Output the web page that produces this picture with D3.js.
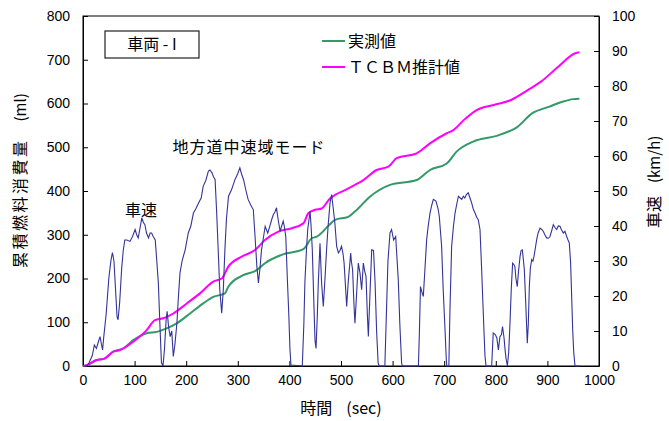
<!DOCTYPE html>
<html><head><meta charset="utf-8">
<script src="https://cdn.jsdelivr.net/npm/d3@7"></script>
<style>
body{margin:0;background:#fff;}
svg{display:block;}
.tick text{font-family:"Liberation Sans Narrow","Liberation Sans",Arial,sans-serif;font-size:14px;fill:#000;}
.cjk{font-family:"Noto Sans CJK JP","Noto Sans",sans-serif;fill:#000;}
</style></head>
<body><svg id="c" width="669" height="421"></svg>
<script>
// ---- data ----
const xTicks = [0,100,200,300,400,500,600,700,800,900,1000];
const yLeftTicks = [0,100,200,300,400,500,600,700,800];
const yRightTicks = [0,10,20,30,40,50,60,70,80,90,100];

const tcbmT = [0,10,23,42.6,58.7,71.7,97.5,123.4,139.5,155.6,175,201,226.7,252.5,268.8,281.6,307.6,333.3,352.7,378.5,404.5,427,436.6,449.6,462.6,478.7,488.4,507.8,527,543.3,569,591.7,608,646.7,672.5,705,717.7,737.8,763,796,829.5,862.5,887.6,921,954,962];
const tcbmV = [0,3,12,17.6,33,36.6,55.5,82,105,109,120,143,166,193,200,227,250,265,288,307,315,326,349,357,360,383,391,402,414,425,448,455.5,475,486,509,532,539,562,585,596.6,608,631,650,684,715,717];

const measT = [0,10,23,42.6,58.7,78,97.5,123.4,143,162,181.6,207.4,233,252.5,275,281.6,307.6,336.6,352.7,385,427,443.2,453,477,488.4,514,527,556,595,646.7,672.5,705,724,756.4,801.7,830.8,837.6,871,904,929,950,962];
const measV = [0,3,12,17.6,33,40,59,75,78,86,97.5,120,143,158,166,181,206,219,235,254,267,292,295.5,322,334,341,353,387,414,425,448,463,490,513,526,539,543,578,593,604,610,611];

const speedT = [0,8,12,18,22,26,30,33,36,38,40,45,50,54,57,60,63,66,68,71,75,78,81,85,91,96,101,104,107,110,114,117,120,123,127,130,133,136,140,143,146,149,152,155,158,161,163,166,169,172,175,178,182,185,188,192,198,204,209,214,219,224,229,233,238,243,246,250,253,256,259,262,265,268.8,272,275,278,282,288,294.6,300,304,307,311,316,320,325,330,333,337,340,343,346,350,353,358,362,366,369,372,375,378,382,385,388,390,393,396,399,401,403,425,428,430,433,435.5,440,442,444.4,447,449.6,451.6,454,456,459.3,462.4,465.7,469,472,475,478.7,481.8,485,488,491.6,495,498,501,504,506,509,511,514,518.8,520,522.5,525,527,530,533.5,536.8,540,543.3,546,548.5,551,553,556,559.5,563,566,569,572,574,585,588,591,595,598,602,606,608,611,614,617.5,619,650,652,654,657,659.5,662,666,669,672.5,676,679,684,688,690.5,693,695,698,701.6,704,705,709,711,714.4,718,721,724,727.5,731,734,737,740,743,746.6,750,753.2,756,759.7,763,766,769.4,772.6,775,777,779,781,792,795,799,802,805,808,811,813,816,818,820,822.5,825,827.5,830,832.6,835,837,839,841.6,844,847,849,851.4,853,855.3,858,861,863,865,867,869.6,872,874,877,879.2,882,885.7,889,892,895,898.6,902,905,908,911.5,915,918,921,924.4,927,930.8,934,937.4,940,942.5,945,947,949,951,953.5,962];
const speedV = [0,0,1,3,6,5,7,8.4,6,4.6,8,15,25,30,32.4,30,22,14,13.2,18,28,33,36,36,35.6,37,39,37.5,36.6,39,42.3,41,40.4,38,36.6,38,38,37,36,30,23.7,12,1,0,5,13,15.6,11,8.4,10,2.7,6,12.3,20,26.6,30,33.2,38,40,43.7,45,46.6,48,51.4,53,55.7,56,55.2,54,53.3,44,33.2,22,15.1,22,33.2,42,48.5,50.4,53.3,55,56.6,55,53.3,50,47.6,46,44.7,38,28.4,23.7,28,33.2,37,39.9,38,39.9,42,43.3,44,45.2,42,38.5,40,41.4,40,37,25,14.1,5,0.3,0,12,23.7,33,39,44.2,40,33.2,20,7.4,5,14,23.7,35.1,23.7,17,25,33.2,40,46.6,49,45,41,34.2,32.3,33,34.2,32,29.4,22,17,24,32.3,30,27.5,18,12.2,20,29.4,26.6,21.8,29.4,27,25.6,15,8.4,20,33.2,33,24,10,0.8,0,0,15,30,38,39,36,37,32,24.6,12,0.8,0,0,10,22.7,21,19.9,26,36.1,40,43.7,46,47.6,47.1,45,42.8,38,34.2,22,10.3,2,0,0,15,34.2,40,43.7,46,48.5,48,47.6,48.5,48,49,49.5,48,46.6,45,43.7,42.5,41.8,39,27.5,18,10.3,3,0,0,9.4,9,8,4.6,8.4,9,11.3,8,4.6,2,0,4,12.2,22,29.4,29,28.4,25,22.7,27,31.3,33,33.2,31,27.5,18,6.5,12,22.7,28,30.4,30,31.3,34,36.1,38,39.4,39,38.5,37.5,36.6,36.5,37,38.5,40.4,39.5,39,40,39.9,39,38,38.5,37,36,35.1,29.4,20,10.3,4,0,0];

// ---- chart ----
const svg = d3.select("#c");
const L = 83, R = 599, T = 16, B = 366;
const x = d3.scaleLinear().domain([0,1000]).range([L,R]);
const yL = d3.scaleLinear().domain([0,800]).range([B,T]);
const yR = d3.scaleLinear().domain([0,100]).range([B,T]);
const fmt = d3.format("d");

// frame
svg.append("rect").attr("x",L).attr("y",T).attr("width",R-L).attr("height",B-T)
  .attr("fill","none").attr("stroke","#000").attr("stroke-width",1);

// axes
const gx = svg.append("g").attr("transform",`translate(0,${B})`)
  .call(d3.axisBottom(x).tickValues(xTicks).tickFormat(fmt).tickSize(-5).tickSizeOuter(0).tickPadding(9));
const gl = svg.append("g").attr("transform",`translate(${L},0)`)
  .call(d3.axisLeft(yL).tickValues(yLeftTicks).tickFormat(fmt).tickSize(-5).tickSizeOuter(0).tickPadding(13));
const gr = svg.append("g").attr("transform",`translate(${R},0)`)
  .call(d3.axisRight(yR).tickValues(yRightTicks).tickFormat(fmt).tickSize(-5).tickSizeOuter(0).tickPadding(13));
[gx,gl,gr].forEach(g=>{g.select(".domain").attr("stroke","#000");g.selectAll(".tick line").attr("stroke","#000");});

// lines
const lineL = d3.line().curve(d3.curveMonotoneX).x(d=>x(d[0])).y(d=>yL(d[1]));
const lineR = d3.line().x(d=>x(d[0])).y(d=>yR(d[1]));
svg.append("path").datum(measT.map((t,i)=>[t,measV[i]])).attr("d",lineL)
  .attr("fill","none").attr("stroke","#339966").attr("stroke-width",2);
svg.append("path").datum(tcbmT.map((t,i)=>[t,tcbmV[i]])).attr("d",lineL)
  .attr("fill","none").attr("stroke","#ff00ff").attr("stroke-width",2);
svg.append("path").datum(speedT.map((t,i)=>[t,speedV[i]])).attr("d",lineR)
  .attr("fill","none").attr("stroke","#333399").attr("stroke-width",1.1);

// box label
svg.append("rect").attr("x",105).attr("y",31).attr("width",94).attr("height",27)
  .attr("fill","#fff").attr("stroke","#222").attr("stroke-width",1.2);
svg.append("text").attr("class","cjk").attr("x",152).attr("y",50).attr("text-anchor","middle")
  .attr("font-size",16).text("車両 - I");

// legend
svg.append("line").attr("x1",322).attr("x2",345).attr("y1",41).attr("y2",41).attr("stroke","#339966").attr("stroke-width",2);
svg.append("line").attr("x1",322).attr("x2",345).attr("y1",67).attr("y2",67).attr("stroke","#ff00ff").attr("stroke-width",2);
svg.append("text").attr("class","cjk").attr("x",348).attr("y",47).attr("font-size",16).text("実測値");
svg.append("text").attr("class","cjk").attr("x",348).attr("y",73).attr("font-size",16).text("ＴＣＢＭ推計値");

// annotations
svg.append("text").attr("class","cjk").attr("x",249).attr("y",153).attr("text-anchor","middle")
  .attr("font-size",16).attr("letter-spacing",1).text("地方道中速域モード");
svg.append("text").attr("class","cjk").attr("x",141).attr("y",216).attr("text-anchor","middle")
  .attr("font-size",16).text("車速");

// axis titles
const lt = svg.append("text").attr("class","cjk").attr("transform","translate(26,268) rotate(-90)")
  .attr("font-size",16);
lt.append("tspan").attr("letter-spacing",2.5).text("累積燃料消費量");
lt.append("tspan").attr("dx",17).attr("font-size",15).text("(ml)");
const rt = svg.append("text").attr("class","cjk").attr("transform","translate(660,228) rotate(-90)")
  .attr("font-size",16);
rt.append("tspan").text("車速");
rt.append("tspan").attr("dx",13).attr("font-size",15).text("(km/h)");
const xt = svg.append("text").attr("class","cjk").attr("x",341).attr("y",414).attr("text-anchor","middle")
  .attr("font-size",16);
xt.append("tspan").text("時間");
xt.append("tspan").attr("dx",14).text("(sec)");
</script></body></html>
